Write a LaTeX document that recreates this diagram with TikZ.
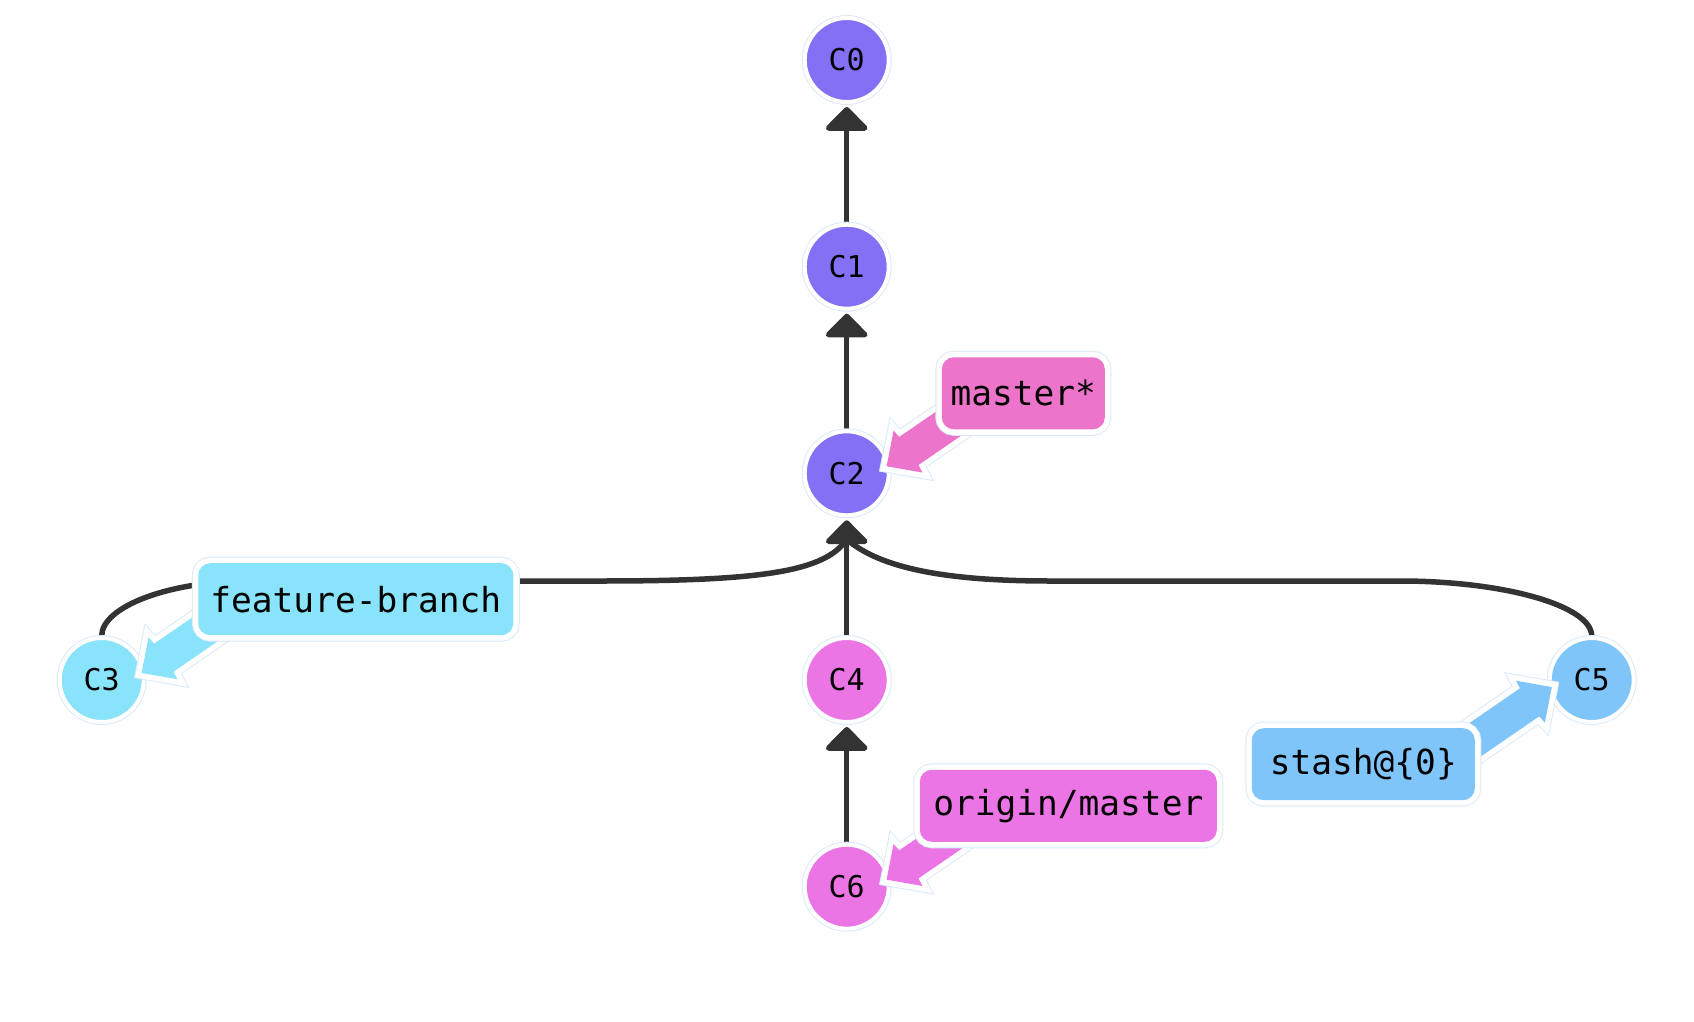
\documentclass[tikz,border=0pt]{standalone}
\usepackage{fontspec}
\newfontfamily\monofont{DejaVu Sans Mono}
\usetikzlibrary{arrows.meta,calc}
\definecolor{cpurple}{RGB}{132,112,245}
\definecolor{cmagenta}{RGB}{236,117,230}
\definecolor{cpink}{RGB}{237,116,203}
\definecolor{ccyan}{RGB}{137,227,250}
\definecolor{cblue}{RGB}{128,197,250}
\definecolor{edgegray}{RGB}{51,51,51}
\definecolor{faint}{RGB}{218,234,250}
\pgfdeclarelayer{bg}
\pgfdeclarelayer{mid}
\pgfdeclarelayer{fg}
\pgfsetlayers{bg,main,mid,fg}
\newcommand\calloutarrow[4]{%
  \begin{scope}[shift={($(#1)+(#2:40.5)$)}, rotate=#3]
    \path[callout=#4] (0,0) -- (26,25.5) -- (27,17) -- (130,17) -- (130,-17) -- (27,-17) -- (26,-25.5) -- cycle;
  \end{scope}}
\begin{document}
\begin{tikzpicture}[x=1pt,y=-1pt,
  commit/.style={circle, minimum size=84pt, inner sep=0pt, fill=#1, draw=white, line width=4pt,
    preaction={draw=faint, line width=6pt}, font=\monofont\fontsize{30}{34}\selectfont, text=black},
  edge/.style={draw=edgegray, line width=5.5pt},
  parent/.style={edge, -{Triangle[width=48pt,length=25pt,round]}, shorten >=3pt},
  labelbox/.style={rectangle, rounded corners=12pt, fill=#1, inner sep=0pt, minimum height=72pt,
    preaction={draw=faint, line width=13pt}, preaction={draw=white, line width=11pt},
    font=\monofont\fontsize{34.5}{40}\selectfont, text=black},
  callout/.style={fill=#1, preaction={draw=faint, line width=13pt}, preaction={draw=white, line width=11pt}}
]
\useasboundingbox (0,0) rectangle (1694,1022);

% commits
\node[commit=cpurple] (C0) at (846.7,60) {C0};
\node[commit=cpurple] (C1) at (846.7,266.7) {C1};
\node[commit=cpurple] (C2) at (846.7,473.3) {C2};
\node[commit=ccyan] (C3) at (101.7,680) {C3};
\node[commit=cmagenta] (C4) at (846.7,680) {C4};
\node[commit=cblue] (C5) at (1591.7,680) {C5};
\node[commit=cmagenta] (C6) at (846.7,886.7) {C6};

% edges
\begin{pgfonlayer}{bg}
\draw[parent] (C1) -- (C0);
\draw[parent] (C2) -- (C1);
\draw[parent] (C4) -- (C2);
\draw[parent] (C6) -- (C4);
\draw[edge] (C3.north) .. controls ([yshift=29pt]C3.north) and (168,581) .. (250,581)
  -- (600,581) .. controls (760,581) and (825,572) .. ([yshift=-22pt]C2.south);
\draw[edge] (C5.north) .. controls ([yshift=30pt]C5.north) and (1505,581) .. (1400,581)
  -- (1050,581) .. controls (945,581) and (880,568) .. ([yshift=-22pt]C2.south);
\end{pgfonlayer}

% labels
\begin{pgfonlayer}{fg}
\node[labelbox=cpink, minimum width=163pt] (master) at (1023.3,393.3) {master*};
\node[labelbox=ccyan, minimum width=315pt] (feature) at (355.8,599.2) {feature-branch};
\node[labelbox=cblue, minimum width=223pt] (stash) at (1363.3,764.2) {stash@\{0\}};
\node[labelbox=cmagenta, minimum width=297pt] (origin) at (1068.3,805.8) {origin/master};
\end{pgfonlayer}

% callout arrows
\begin{pgfonlayer}{mid}
\calloutarrow{C2}{-10}{34.5}{cpink}
\calloutarrow{C3}{-10}{34.5}{ccyan}
\calloutarrow{C5}{170}{214.5}{cblue}
\calloutarrow{C6}{-10}{34.5}{cmagenta}
\end{pgfonlayer}
\end{tikzpicture}
\end{document}
